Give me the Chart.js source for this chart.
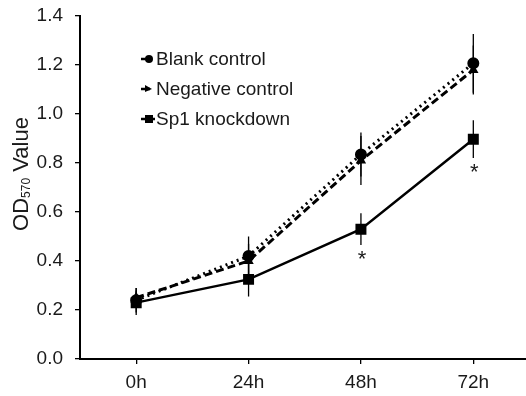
<!DOCTYPE html>
<html>
<head>
<meta charset="utf-8">
<script src="https://cdn.jsdelivr.net/npm/chart.js@4"></script>
<style>
  html, body { margin: 0; padding: 0; background: #fff; overflow: hidden; }
  #wrap { width: 526px; height: 396px; overflow: hidden; }
</style>
</head>
<body>
<div id="wrap"><canvas id="mychart" width="538" height="396"></canvas></div>
<script>
// data
const timeLabels = ['0h', '24h', '48h', '72h'];
const blankControl = [0.24, 0.42, 0.835, 1.207];
const blankErr = [0.05, 0.08, 0.09, 0.12];
const negativeControl = [0.25, 0.40, 0.81, 1.18];
const negativeErr = [0.04, 0.07, 0.10, 0.10];
const sp1Knockdown = [0.23, 0.325, 0.53, 0.897];
const sp1Err = [0.05, 0.07, 0.065, 0.077];
const starred = [false, false, true, true];   // asterisk under Sp1 point
const seriesNames = ['Blank control', 'Negative control', 'Sp1 knockdown'];

const FONT = 'Liberation Sans, Arial, sans-serif';
const TXT = '#1a1a1a';

// vertical error bars, no caps
const errorBars = {
  id: 'errorBars',
  afterDatasetsDraw(chart) {
    const ctx = chart.ctx;
    const y = chart.scales.y;
    ctx.save();
    ctx.strokeStyle = '#000';
    ctx.lineWidth = 1.3;
    chart.data.datasets.forEach((ds, i) => {
      const meta = chart.getDatasetMeta(i);
      meta.data.forEach((pt, j) => {
        const v = ds.data[j], e = ds.errors[j];
        ctx.beginPath();
        ctx.moveTo(pt.x, y.getPixelForValue(v + e));
        ctx.lineTo(pt.x, y.getPixelForValue(v - e));
        ctx.stroke();
      });
    });
    ctx.restore();
  }
};

// asterisks, y-title with subscript, and in-plot legend
const extras = {
  id: 'extras',
  afterDraw(chart) {
    const ctx = chart.ctx;
    const x = chart.scales.x, y = chart.scales.y;
    ctx.save();
    ctx.fillStyle = TXT;
    ctx.font = '22px ' + FONT;
    ctx.textAlign = 'center';
    ctx.textBaseline = 'alphabetic';
    starred.forEach((s, j) => {
      if (!s) return;
      const px = x.getPixelForValue(j);
      const py = y.getPixelForValue(sp1Knockdown[j] - sp1Err[j]);
      ctx.fillText('*', px + 1, py + 21);
    });

    // y axis title "OD570 Value"
    ctx.save();
    ctx.translate(28, 174);
    ctx.rotate(-Math.PI / 2);
    ctx.fillStyle = TXT;
    ctx.textBaseline = 'alphabetic';
    ctx.textAlign = 'left';
    const big = '22px ' + FONT, small = '12px ' + FONT;
    ctx.font = big;
    const w1 = ctx.measureText('OD').width;
    const w3 = ctx.measureText(' Value').width;
    ctx.font = small;
    const w2 = ctx.measureText('570').width;
    let sx = -(w1 + w2 + w3) / 2;
    ctx.font = big;
    ctx.fillText('OD', sx, 0);
    ctx.font = small;
    ctx.fillText('570', sx + w1, 2);
    ctx.font = big;
    ctx.fillText(' Value', sx + w1 + w2, 0);
    ctx.restore();

    // legend
    const rows = [59, 89, 119];
    ctx.font = '19px ' + FONT;
    ctx.textAlign = 'left';
    ctx.textBaseline = 'middle';
    chart.data.datasets.forEach((ds, i) => {
      const ly = rows[i];
      ctx.strokeStyle = '#000';
      ctx.lineWidth = 2.5;
      ctx.beginPath();
      ctx.moveTo(141, ly);
      ctx.lineTo(i === 2 ? 155 : 150, ly);
      ctx.stroke();
      ctx.fillStyle = '#000';
      ctx.beginPath();
      if (ds.pointStyle === 'circle') {
        ctx.arc(149, ly, 4, 0, Math.PI * 2);
      } else if (ds.pointStyle === 'rect') {
        ctx.rect(145, ly - 4, 8, 8);
      } else {
        ctx.moveTo(145, ly - 4); ctx.lineTo(152, ly); ctx.lineTo(145, ly + 3);
      }
      ctx.fill();
      ctx.fillStyle = TXT;
      ctx.fillText(seriesNames[i], 156, ly + 1);
    });
    ctx.restore();
  }
};

const data = {
  labels: timeLabels,
  datasets: [
    {
      label: seriesNames[0],
      data: blankControl,
      errors: blankErr,
      borderColor: '#000',
      backgroundColor: '#000',
      borderWidth: 3,
      borderDash: [2, 4],
      pointStyle: 'circle',
      pointRadius: 4.5,
      tension: 0,
    },
    {
      label: seriesNames[1],
      data: negativeControl,
      errors: negativeErr,
      borderColor: '#000',
      backgroundColor: '#000',
      borderWidth: 3,
      borderDash: [8, 4],
      pointStyle: 'triangle',
      pointRadius: 3,
      tension: 0,
    },
    {
      label: seriesNames[2],
      data: sp1Knockdown,
      errors: sp1Err,
      borderColor: '#000',
      backgroundColor: '#000',
      borderWidth: 2.5,
      pointStyle: 'rect',
      pointRadius: 6,
      tension: 0,
    }
  ]
};

const config = {
  type: 'line',
  data: data,
  options: {
    responsive: false,
    animation: false,
    layout: { padding: { top: 16, right: 0, bottom: 0, left: 0 } },
    plugins: {
      legend: { display: false },
      tooltip: { enabled: false },
    },
    scales: {
      x: {
        offset: true,
        grid: {
          offset: false,
          drawOnChartArea: false,
          drawTicks: true,
          tickLength: 5,
          color: '#000',
          lineWidth: 1.3,
        },
        border: { color: '#000', width: 2 },
        ticks: {
          color: TXT,
          padding: 7,
          font: { size: 19, family: FONT },
        },
        afterFit(scale) {
          scale.height = 37;
          scale.paddingLeft = 0;
          scale.paddingRight = 0;
        },
      },
      y: {
        min: 0,
        max: 1.4,
        ticks: {
          stepSize: 0.2,
          color: TXT,
          padding: 12,
          font: { size: 19, family: FONT },
          callback: (v) => v.toFixed(1),
        },
        grid: {
          drawOnChartArea: false,
          drawTicks: true,
          tickLength: 5,
          color: '#000',
          lineWidth: 1.3,
        },
        border: { color: '#000', width: 2 },
        afterFit(scale) {
          scale.width = 80;
          scale.paddingTop = 0;
          scale.paddingBottom = 0;
        },
      }
    }
  },
  plugins: [errorBars, extras]
};

const ctx = document.getElementById('mychart').getContext('2d');
new Chart(ctx, config);
</script>
</body>
</html>
